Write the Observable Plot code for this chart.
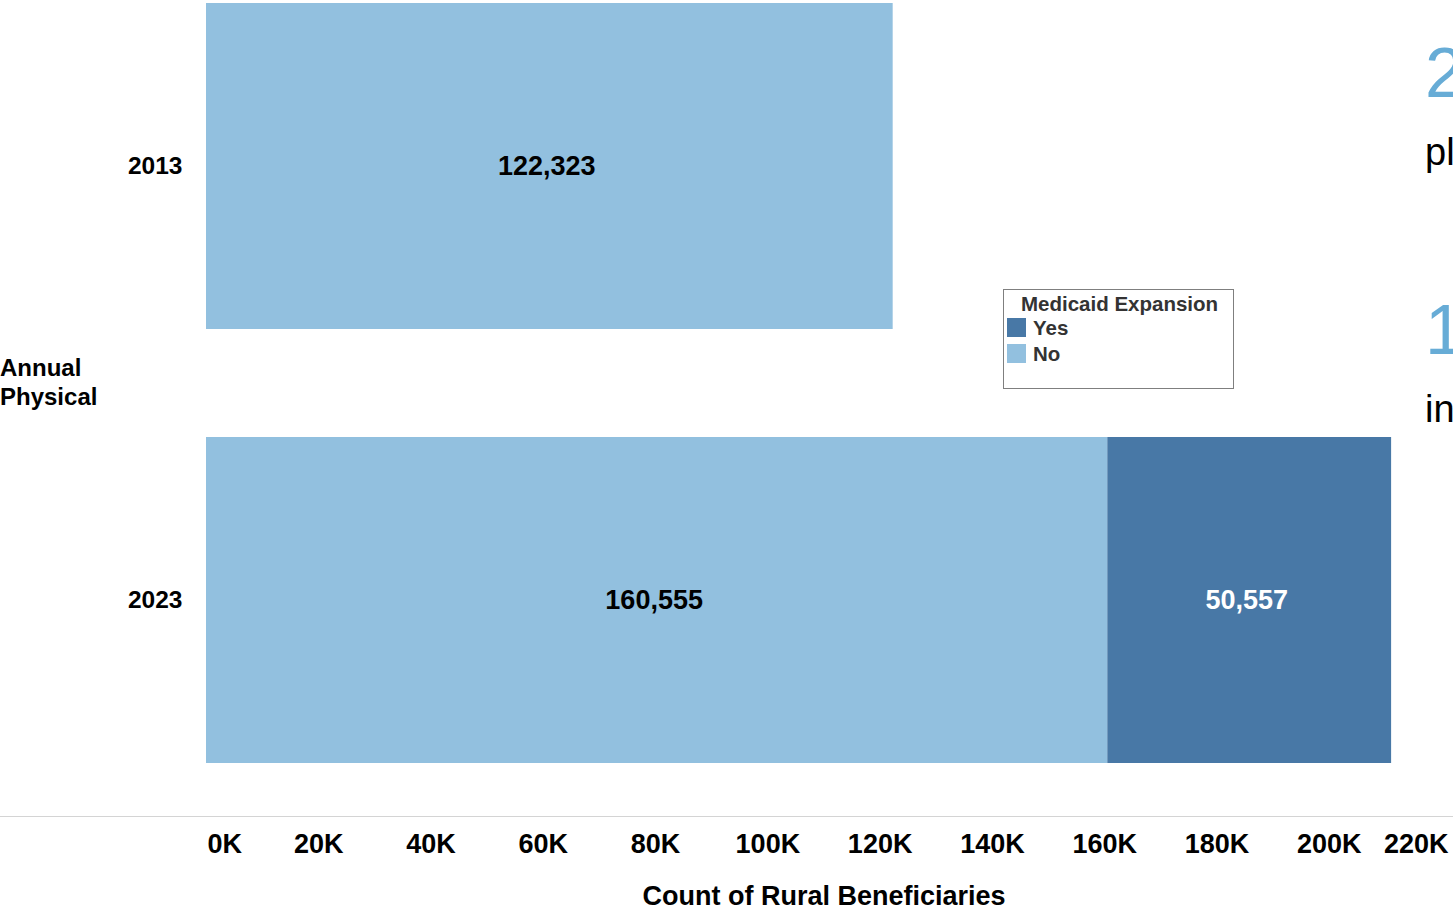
<!DOCTYPE html>
<html><head><meta charset="utf-8">
<script src="https://cdn.jsdelivr.net/npm/d3@7"></script>
<script src="https://cdn.jsdelivr.net/npm/@observablehq/plot@0.6"></script>
<style>
html,body{margin:0;padding:0;background:#fff;overflow:hidden;}
#wrap{position:relative;width:1453px;height:911px;overflow:hidden;font-family:Arial,"Liberation Sans",sans-serif;font-weight:bold;}
#chart{position:absolute;left:0;top:0;}
.rowhdr{position:absolute;left:0;top:353px;font-size:24px;line-height:29px;color:#000;}
.axisline{position:absolute;left:0;top:816px;width:1453px;height:1px;background:#d4d4d4;}
.legend{position:absolute;left:1003px;top:289px;width:229px;height:98px;border:1px solid #7f7f7f;background:#fff;color:#333;}
.legend .ttl{position:absolute;left:17px;top:2px;font-size:20.5px;line-height:24px;white-space:nowrap;}
.legend .item{position:absolute;left:3px;font-size:20.5px;line-height:20px;white-space:nowrap;}
.legend .sw{display:inline-block;width:19px;height:19px;vertical-align:top;margin-right:7px;}
.frag{position:absolute;left:1425px;font-family:"Liberation Sans",Arial,sans-serif;font-weight:normal;line-height:1;white-space:nowrap;}
</style></head><body>
<div id="wrap">
  <div id="chart"></div>
  <div class="axisline"></div>
  <div class="rowhdr" id="rowhdr"></div>
  <div class="legend" id="legend"></div>
  <div class="frag" style="top:38px;font-size:70px;color:#67acd6;">2</div>
  <div class="frag" style="top:133px;font-size:38px;color:#000;">pl</div>
  <div class="frag" style="top:295px;font-size:70px;color:#67acd6;">1</div>
  <div class="frag" style="top:390px;font-size:38px;color:#000;">in</div>
</div>
<script>
// ---- data ----
const years = ["2013", "2023"];
const groups = ["No", "Yes"];            // stacking order (left to right)
const noCounts = [122323, 160555];
const yesCounts = [null, 50557];         // no "Yes" bar in 2013
const groupColors = ["#92c0df", "#4878a6"];
const xTicks = [0, 20000, 40000, 60000, 80000, 100000, 120000, 140000, 160000, 180000, 200000, 220000];
const rowHeader = ["Annual", "Physical"];
const legendTitle = "Medicaid Expansion";
const legendOrder = ["Yes", "No"];
const xTitle = "Count of Rural Beneficiaries";

const data = [];
years.forEach((y, i) => {
  if (noCounts[i] != null) data.push({year: y, group: "No", count: noCounts[i]});
  if (yesCounts[i] != null) data.push({year: y, group: "Yes", count: yesCounts[i]});
});

const fmt = d3.format(",");
const kfmt = d => (d / 1000) + "K";

const plot = Plot.plot({
  width: 1453,
  height: 911,
  marginTop: 0,
  marginLeft: 206,
  marginRight: 12,
  marginBottom: 94,
  style: {fontFamily: "Arial, 'Liberation Sans', sans-serif", fontWeight: "bold", color: "#000", background: "transparent"},
  x: {domain: [0, 220000]},
  y: {domain: years, range: [3, 763], paddingInner: 0.25, paddingOuter: 0},
  color: {domain: groups, range: groupColors},
  marks: [
    Plot.barX(data, Plot.stackX({x: "count", y: "year", fill: "group", order: groups})),
    Plot.text(data, Plot.stackX({x: "count", y: "year", z: "group", order: groups,
      text: d => d.group === "No" ? fmt(d.count) : "", fill: "#000", fontSize: 27, fontWeight: "bold", dx: -3})),
    Plot.text(data, Plot.stackX({x: "count", y: "year", z: "group", order: groups,
      text: d => d.group === "Yes" ? fmt(d.count) : "", fill: "#fff", fontSize: 27, fontWeight: "bold", dx: -3})),
    Plot.axisY({tickSize: 0, tickPadding: 24, fontSize: 24.5, label: null}),
    Plot.axisX(xTicks.slice(1, -1), {tickSize: 0, tickPadding: 16, fontSize: 27, tickFormat: kfmt, label: null}),
    Plot.axisX(xTicks.slice(0, 1), {tickSize: 0, tickPadding: 16, fontSize: 27, tickFormat: kfmt, textAnchor: "start", dx: 1, label: null}),
    Plot.axisX(xTicks.slice(-1), {tickSize: 0, tickPadding: 16, fontSize: 27, tickFormat: kfmt, textAnchor: "end", dx: 7, label: null}),
    Plot.axisX({ticks: [], tickSize: 0, label: xTitle, labelAnchor: "center", labelArrow: "none", labelOffset: 87, fontSize: 27})
  ]
});
document.getElementById("chart").appendChild(plot);

document.getElementById("rowhdr").innerHTML = rowHeader.join("<br>");
const leg = document.getElementById("legend");
const t = document.createElement("div"); t.className = "ttl"; t.textContent = legendTitle; leg.appendChild(t);
legendOrder.forEach((g, i) => {
  const it = document.createElement("div");
  it.className = "item";
  it.style.top = (28 + i * 26) + "px";
  const sw = document.createElement("span");
  sw.className = "sw";
  sw.style.background = groupColors[groups.indexOf(g)];
  it.appendChild(sw);
  it.appendChild(document.createTextNode(g));
  leg.appendChild(it);
});
</script>
</body></html>
